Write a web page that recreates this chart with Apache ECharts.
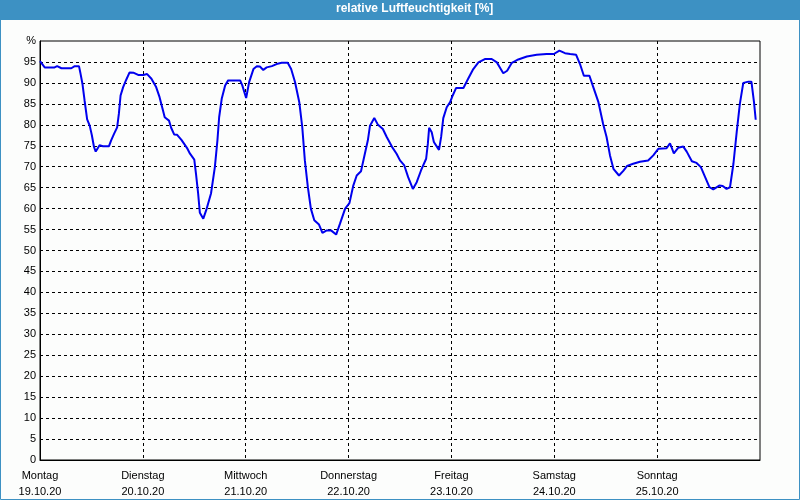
<!DOCTYPE html>
<html>
<head>
<meta charset="utf-8">
<script src="https://cdn.jsdelivr.net/npm/echarts@6/dist/echarts.min.js"></script>
<style>
html,body{margin:0;padding:0;background:#fcfdfc;}
#c{width:800px;height:500px;}
</style>
</head>
<body>
<div id="c"></div>
<script>
var titleText = 'relative Luftfeuchtigkeit [%]';
var dayNames = ['Montag','Dienstag','Mittwoch','Donnerstag','Freitag','Samstag','Sonntag'];
var dayDates = ['19.10.20','20.10.20','21.10.20','22.10.20','23.10.20','24.10.20','25.10.20'];
var yUnit = '%';

// hours since Monday 19.10.20 00:00
var hours = [0,1.1,3.4,4.0,5.0,7.3,8.1,9.1,9.4,9.9,10.4,11.0,11.6,12.1,12.6,13.0,13.4,13.9,14.7,16.1,
16.6,17.3,18.0,18.4,18.8,19.4,20.1,20.9,21.9,22.9,24.1,25.0,26.0,27.1,27.9,28.7,29.1,30.1,30.6,31.3,
32.0,33.0,34.4,35.0,36.0,36.4,36.9,37.3,38.1,38.9,39.9,40.8,41.4,41.8,42.4,43.2,43.9,46.7,47.2,48.1,
48.8,49.8,50.6,51.3,52.1,52.9,54.1,55.2,56.4,57.8,58.6,59.5,60.5,61.2,61.8,62.5,63.2,64.0,65.1,65.9,
66.9,67.9,69.1,70.0,71.2,72.2,73.1,73.9,74.9,75.8,76.5,77.0,78.0,78.8,80.0,80.9,82.1,83.2,84.0,85.0,
85.9,87.0,87.9,88.9,90.1,90.5,90.8,91.4,91.9,92.6,93.1,93.6,94.1,94.9,95.7,96.3,97.1,98.8,99.9,101.1,
102.3,103.8,105.4,106.6,107.3,108.1,109.0,110.1,111.6,113.6,115.9,118.2,119.9,121.2,122.5,123.7,125.1,126.0,126.9,128.2,
129.1,130.3,131.4,132.2,133.0,133.8,135.1,136.1,137.0,138.4,140.0,141.9,143.1,144.3,146.2,147.0,147.9,148.9,150.1,150.9,
152.1,153.2,154.2,155.2,156.2,157.1,158.5,159.3,160.2,161.0,161.8,162.6,163.3,164.1,165.3,166.0,166.6,167.0];

var humidity = [95.2,93.7,93.7,94.0,93.5,93.5,94.0,94.0,92.5,89.8,85.8,81.3,79.8,77.5,74.7,73.6,74.3,75.1,74.9,74.9,
76.3,77.9,79.4,82.6,87.0,89.0,90.7,92.5,92.4,91.9,91.9,92.1,91.0,89.0,86.6,83.4,81.8,81.0,79.3,77.7,
77.6,76.4,74.3,73.1,71.7,68.3,63.6,59.0,57.6,60.0,63.6,69.9,76.3,81.8,86.2,89.4,90.6,90.6,89.4,86.4,
90.2,93.3,94.0,93.9,93.1,93.7,94.0,94.5,94.8,94.8,93.3,90.2,85.4,79.4,71.5,65.1,60.0,57.2,56.2,54.2,
54.8,54.8,53.8,56.4,60.0,61.3,65.5,67.9,68.9,73.1,76.3,79.8,81.6,80.1,79.0,77.1,74.8,73.1,71.5,70.3,
67.5,64.7,66.3,69.1,71.9,75.5,79.3,78.2,75.9,74.8,74.0,77.1,81.6,84.2,85.4,87.0,88.8,88.8,91.0,93.3,
94.9,95.7,95.7,94.9,93.7,92.3,92.9,94.8,95.6,96.3,96.7,96.9,96.9,97.7,97.1,96.9,96.7,94.5,91.7,91.7,
89.0,85.4,80.2,77.1,72.7,69.5,67.9,69.0,70.2,70.7,71.2,71.5,72.7,74.3,74.4,75.6,73.2,74.5,74.8,73.6,
71.3,70.9,69.9,67.5,65.1,64.6,65.5,65.4,64.7,65.1,70.7,78.6,85.0,90.0,90.3,90.3,85.4,81.2];

var seriesData = hours.map(function(h, i){ return [h, humidity[i]]; });

var chart = echarts.init(document.getElementById('c'), null, {renderer:'canvas'});
var fontFam = '"Liberation Sans", Arial, sans-serif';
chart.setOption({
  backgroundColor: '#fcfdfc',
  animation: false,
  graphic: [
    {type:'rect', left:0, top:0, shape:{width:800, height:20}, style:{fill:'#3d91c3'}, z:-1},
    {type:'rect', shape:{x:0.5, y:0.5, width:799, height:499}, style:{fill:'none', stroke:'#3d91c3', lineWidth:1}, z:-1},
    {type:'text', left:336, top:3, style:{text:titleText, fill:'#ffffff', font:'bold 12px ' + fontFam}}
  ],
  grid: {left:40, right:40, top:41, bottom:40, show:true, borderColor:'#000', borderWidth:1, backgroundColor:'transparent'},
  xAxis: {
    type:'value', min:0, max:168, interval:24,
    axisLine:{show:true, lineStyle:{color:'#000', width:1}},
    axisTick:{show:false},
    splitLine:{show:true, showMinLine:false, showMaxLine:false, lineStyle:{color:'#000', type:[3,3], width:1}},
    axisLabel:{
      show:true, margin:8, color:'#000', fontFamily:fontFam, fontSize:11, lineHeight:16,
      showMaxLabel:false,
      formatter:function(v){ var i = Math.round(v/24); if(i>=dayNames.length) return ''; return dayNames[i] + '\n' + dayDates[i]; }
    }
  },
  yAxis: {
    type:'value', min:0, max:100, interval:5,
    axisLine:{show:true, lineStyle:{color:'#000', width:1}},
    axisTick:{show:false},
    splitLine:{show:true, showMinLine:false, showMaxLine:false, lineStyle:{color:'#000', type:[3,3], width:1}},
    axisLabel:{
      margin:4, color:'#000', fontFamily:fontFam, fontSize:11,
      formatter:function(v){ return v === 100 ? yUnit : String(v); }
    }
  },
  series: [{
    type:'line', data:seriesData, showSymbol:false, symbol:'none',
    lineStyle:{color:'#0000ee', width:2}, smooth:false
  }]
});
</script>
</body>
</html>
